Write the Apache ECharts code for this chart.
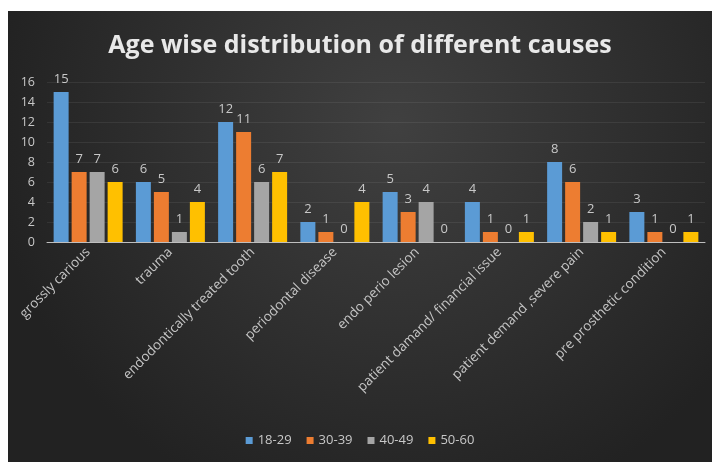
<!DOCTYPE html>
<html><head><meta charset="utf-8">
<script src="https://cdn.jsdelivr.net/npm/echarts@6/dist/echarts.min.js"></script>
<style>
html,body{margin:0;padding:0;background:#fff;width:712px;height:462px;overflow:hidden}
#c{position:absolute;left:8px;top:11px;width:704px;height:451px}
</style></head>
<body><div id="c"></div>
<script>
const categories = ["grossly carious","trauma","endodontically treated tooth","periodontal disease","endo perio lesion","patient damand/ financial issue","patient demand ,severe pain","pre prosthetic condition"];
const seriesNames = ["18-29","30-39","40-49","50-60"];
const s1829 = [15,6,12,2,5,4,8,3];
const s3039 = [7,5,11,1,3,1,6,1];
const s4049 = [7,1,6,0,4,0,2,0];
const s5060 = [6,4,7,4,0,1,1,1];
const yTicks = [0,2,4,6,8,10,12,14,16];
const colors = ["#5B9BD5","#ED7D31","#A5A5A5","#FFC000"];
const values = [s1829,s3039,s4049,s5060];

const chart = echarts.init(document.getElementById('c'));
chart.setOption({
  backgroundColor: {type:'radial', x:0.55, y:0.25, r:0.9, colorStops:[{offset:0,color:'#404040'},{offset:1,color:'#222222'}]},
  color: colors,
  title: {text:'Age wise distribution of different causes', left:'center', top:17,
    textStyle:{color:'#e8e8e8', fontSize:25, fontWeight:'bold', fontFamily:'Open Sans'}},
  legend: {bottom:10, left:'center', itemWidth:7, itemHeight:7, itemGap:15, icon:'rect',
    textStyle:{color:'#c8c8c8', fontSize:13, fontFamily:'Open Sans'}, data:seriesNames},
  grid: {left:39, right:7, top:71, bottom:220, containLabel:false},
  xAxis: {type:'category', data:categories,
    axisLine:{lineStyle:{color:'#bfbfbf', width:1}}, axisTick:{show:false},
    axisLabel:{rotate:45, interval:0, color:'#c4c4c4', fontSize:13.5, fontFamily:'Open Sans', margin:8}},
  yAxis: {type:'value', min:yTicks[0], max:yTicks[yTicks.length-1], interval:2,
    axisLine:{show:false}, axisTick:{show:false},
    axisLabel:{color:'#c8c8c8', fontSize:12.5, fontFamily:'Open Sans', margin:12},
    splitLine:{lineStyle:{color:'rgba(255,255,255,0.07)'}}},
  series: seriesNames.map((n,i)=>({name:n, type:'bar', data:values[i], barWidth:15, barGap:'20%',
    label:{show:true, position:'top', color:'#c8c8c8', fontSize:13, fontFamily:'Open Sans', distance:6}}))
});
</script></body></html>
